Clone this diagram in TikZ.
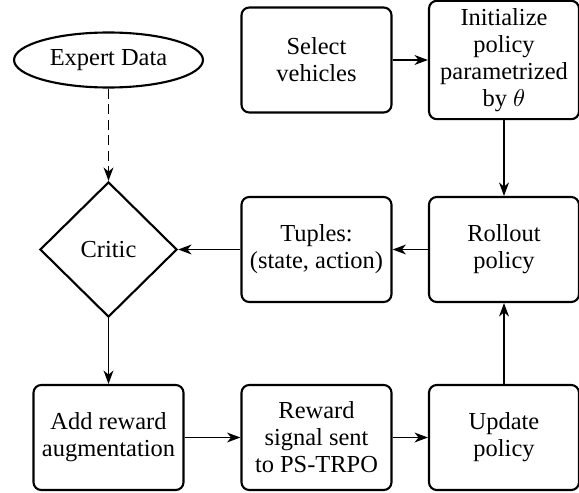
\documentclass[tikz,border=0pt]{standalone}
\usepackage{fontspec}
\setmainfont{Liberation Serif}
\usetikzlibrary{shapes.geometric,arrows.meta}
\begin{document}
\begin{tikzpicture}[x=0.45pt,y=-0.45pt,font=\fontsize{11}{12.15}\selectfont]
    \tikzset{
        stepbox/.style={draw,line width=0.95pt,rounded corners=3.5pt,align=center,
            minimum width=67.5pt,minimum height=47.25pt,inner sep=3.4pt},
        sourceblob/.style={draw,line width=0.95pt,shape=ellipse,minimum width=85pt,
            minimum height=24.75pt,inner sep=1pt},
        criticbox/.style={draw,line width=0.95pt,shape=diamond,minimum width=61.7pt,
            minimum height=60.8pt,inner sep=0pt},
        flowarrow/.style={line width=0.85pt,-{Stealth[length=6pt,width=4.4pt,inset=1.8pt]}}
    }
    \useasboundingbox (0,0) rectangle (579,492);

    \node[sourceblob] (expert) at (108.5,60) {Expert Data};
    \node[stepbox] (select) at (316.5,60) {Select\\vehicles};
    \node[stepbox] (init) at (504,60) {Initialize\\policy\\parametrized\\by $\theta$};

    \node[criticbox] (critic) at (108.5,249.5) {Critic};
    \node[stepbox] (tuples) at (316.5,249.5) {Tuples:\\(state, action)};
    \node[stepbox] (rollout) at (504,249.5) {Rollout\\policy};

    \node[stepbox] (augment) at (108.5,437.5) {Add reward\\augmentation};
    \node[stepbox] (signal) at (316.5,437.5) {Reward\\signal sent\\to PS-TRPO};
    \node[stepbox] (update) at (504,437.5) {Update\\policy};

  \draw[flowarrow] (select) -- (init);
  \draw[flowarrow] (init) -- (rollout);
  \draw[flowarrow] (rollout) -- (tuples);
  \draw[flowarrow] (tuples) -- (critic);
  \draw[flowarrow,dash pattern=on 4.5pt off 2.5pt] (expert) -- (critic);
  \draw[flowarrow] (critic) -- (augment);
  \draw[flowarrow] (augment) -- (signal);
  \draw[flowarrow] (signal) -- (update);
  \draw[flowarrow] (update) -- (rollout);

\end{tikzpicture}
\end{document}
